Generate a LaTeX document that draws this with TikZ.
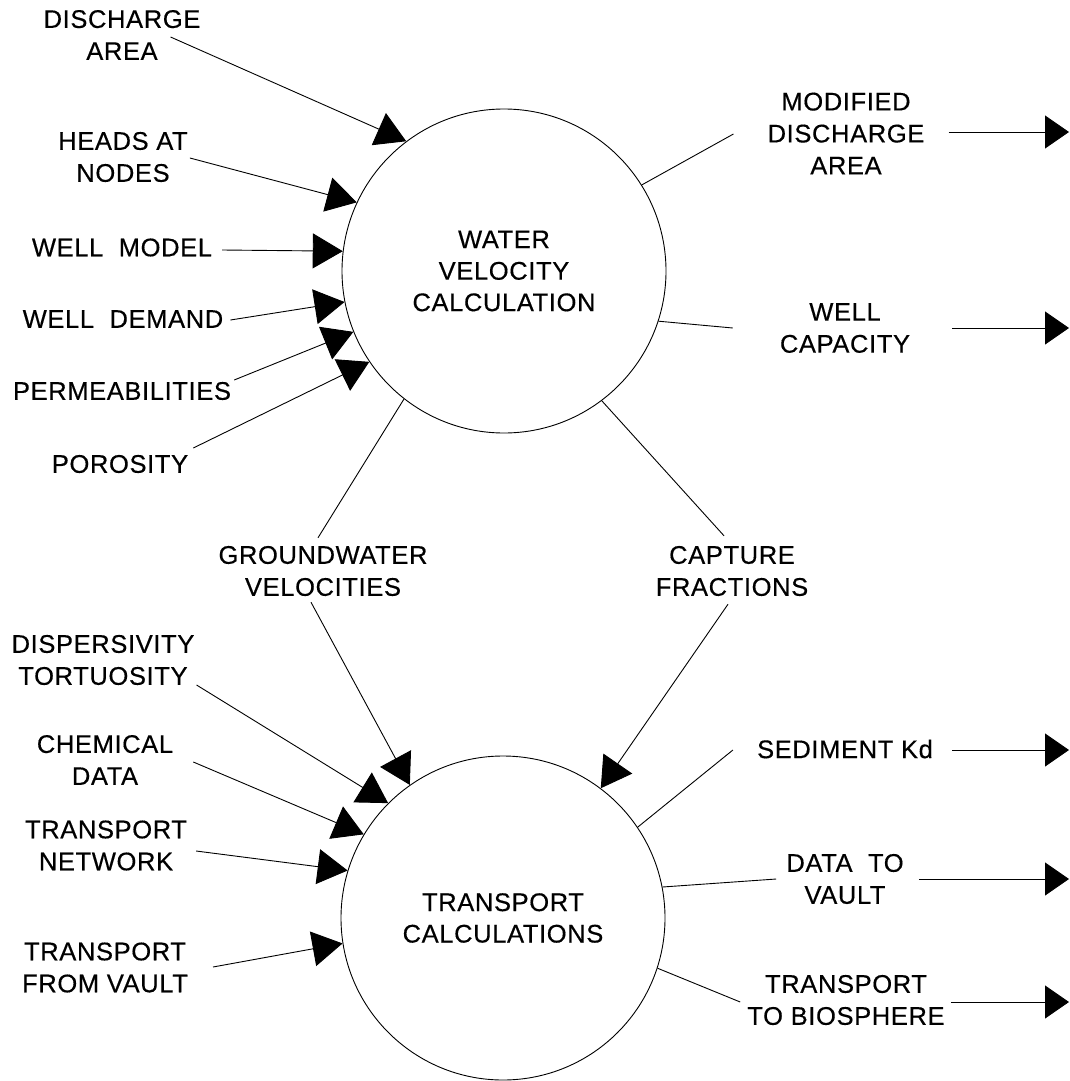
\documentclass[tikz,border=0pt]{standalone}
\usepackage{fontspec}
\setmainfont{Liberation Sans}[LetterSpace=2.5,FakeBold=0.4]
\usetikzlibrary{arrows.meta}
\begin{document}
\begin{tikzpicture}[x=1pt,y=-1pt,
  lbl/.style={font=\fontsize{25.5}{32}\selectfont, align=center, inner sep=0pt},
  proc/.style={circle, draw, line width=0.9pt, minimum size=324pt, inner sep=0pt,
               font=\fontsize{25.5}{31.5}\selectfont, align=center},
  flow/.style={line width=0.9pt, -{Triangle[length=30pt,width=35pt]}},
  link/.style={line width=0.9pt},
  outflow/.style={line width=0.9pt, -{Triangle[length=24pt,width=33pt]}},
]
\useasboundingbox (0,0) rectangle (1069,1081);

% processes
\node[proc] (wv) at (504,271) {WATER\\VELOCITY\\CALCULATION};
\node[proc] (tc) at (503,918) {TRANSPORT\\CALCULATIONS};

% inputs to the water velocity calculation
\node[lbl] (dis) at (122,35)    {DISCHARGE\\AREA};
\node[lbl] (hn)  at (123,157)   {HEADS AT\\NODES};
\node[lbl] (wm)  at (122,247.5) {WELL\ \ MODEL};
\node[lbl] (wd)  at (123,319)   {WELL\ \ DEMAND};
\node[lbl] (pm)  at (122,391)   {PERMEABILITIES};
\node[lbl] (po)  at (120,464)   {POROSITY};

% intermediate flows
\node[lbl] (gw) at (323,571) {GROUNDWATER\\VELOCITIES};
\node[lbl] (cf) at (732,571) {CAPTURE\\FRACTIONS};

% inputs to the transport calculations
\node[lbl] (dt) at (103,660)   {DISPERSIVITY\\TORTUOSITY};
\node[lbl] (cd) at (105,760)   {CHEMICAL\\DATA};
\node[lbl] (tn) at (106,845.5) {TRANSPORT\\NETWORK};
\node[lbl] (tv) at (105,967.5) {TRANSPORT\\FROM VAULT};

% outputs
\node[lbl] (md) at (846,133.5) {MODIFIED\\DISCHARGE\\AREA};
\node[lbl] (wc) at (845,328)   {WELL\\CAPACITY};
\node[lbl] (sk) at (845,749)   {SEDIMENT Kd};
\node[lbl] (dv) at (845,879)   {DATA\ \ TO\\VAULT};
\node[lbl] (tb) at (846,1000)  {TRANSPORT\\TO BIOSPHERE};

% free ends of the outgoing arrows
\coordinate (mdo) at (1069,132);
\coordinate (wco) at (1069,328);
\coordinate (sko) at (1069,750);
\coordinate (dvo) at (1069,879);
\coordinate (tbo) at (1069,1002);

% flows into the water velocity calculation
\draw[flow] ([shift={(-30,2)}]dis.east) -- (wv.127.7);
\draw[flow] ([shift={(2,1)}]hn.east)    -- (wv.155.5);
\draw[flow] ([shift={(10,2.5)}]wm.east) -- (wv.173.2);
\draw[flow] ([shift={(7,1)}]wd.east)    -- (wv.191.4);
\draw[flow] ([shift={(3,-11)}]pm.east)  -- (wv.202);
\draw[flow] ([shift={(5,-16)}]po.east)  -- (wv.214.5);

% flows out of the water velocity calculation
\draw[link] (wv.32.5) -- ([shift={(-34,0.5)}]md.west);
\draw[outflow] ([shift={(24,-1.5)}]md.east) -- (mdo);
\draw[link] (wv.342.4) -- ([shift={(-47,0)}]wc.west);
\draw[outflow] ([shift={(42,0)}]wc.east) -- (wco);

% between the two processes
\draw[link] (wv.232.8) -- ([shift={(-5,-8)}]gw.north);
\draw[flow] ([shift={(-12,6)}]gw.south) -- (tc.125.4);
\draw[link] (wv.307.4) -- ([shift={(-8,-10)}]cf.north);
\draw[flow] ([shift={(-4,8)}]cf.south) -- (tc.53.4);

% flows into the transport calculations
\draw[flow] ([shift={(2,25)}]dt.east)     -- (tc.135.5);
\draw[flow] ([shift={(20,2)}]cd.east)     -- (tc.149.5);
\draw[flow] ([shift={(9,5.5)}]tn.east)    -- (tc.163.1);
\draw[flow] ([shift={(25,-0.5)}]tv.east)  -- (tc.189.1);

% flows out of the transport calculations
\draw[link] (tc.34.1) -- ([shift={(-24,1)}]sk.west);
\draw[outflow] ([shift={(19,1)}]sk.east) -- (sko);
\draw[link] (tc.11) -- ([shift={(-10,0)}]dv.west);
\draw[outflow] ([shift={(15,0)}]dv.east) -- (dvo);
\draw[link] (tc.342.5) -- ([shift={(-7,2)}]tb.west);
\draw[outflow] ([shift={(6,2)}]tb.east) -- (tbo);
\end{tikzpicture}
\end{document}
